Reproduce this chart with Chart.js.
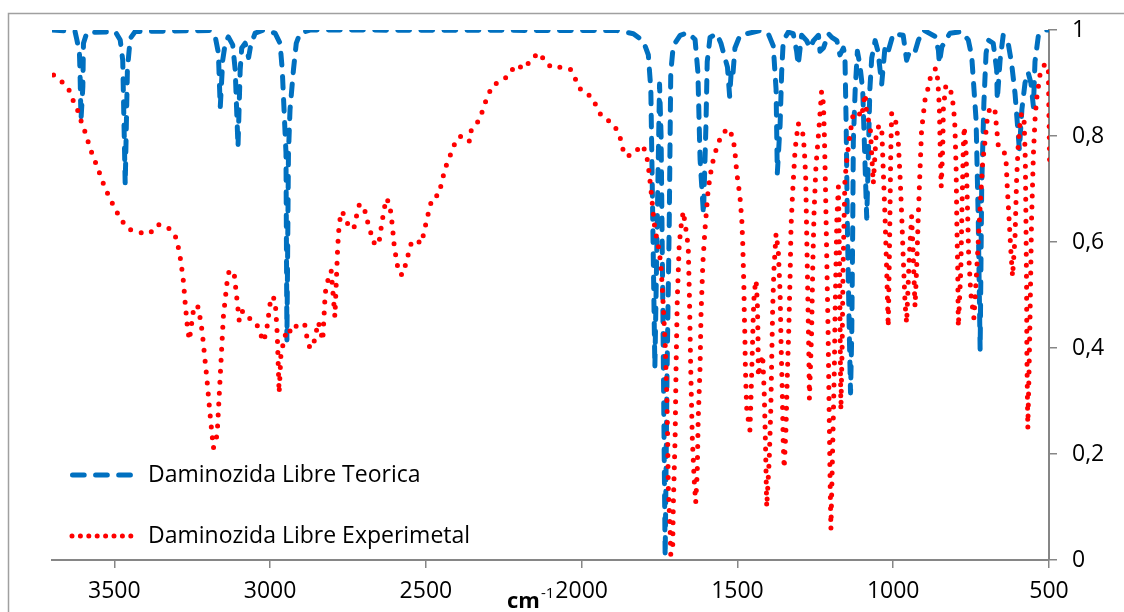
<!DOCTYPE html>
<html>
<head>
<meta charset="utf-8">
<script src="https://cdn.jsdelivr.net/npm/chart.js@4.4.1/dist/chart.umd.min.js"></script>
<style>
html,body{margin:0;padding:0;background:#fff;overflow:hidden}
#wrap{position:relative;width:1124px;height:612px}
</style>
</head>
<body>
<div id="wrap"><canvas id="c" width="1124" height="612"></canvas></div>
<script>
// ---------- data ----------
const seriesNames = ['Daminozida Libre Teorica', 'Daminozida Libre Experimetal'];

const teoricaWn = [3700,3626,3620,3612,3610,3607,3601,3599,3588,3497,3481,3473,3465,3458,3449,3433,
  3192,3176,3166,3160,3152,3144,3134,3120,3112,3103,3096,3091,3080,3069,3062,3048,3021,
  2984,2968,2961,2949,2946,2941,2936,2925,2916,2904,2872,
  1941,1887,1834,1802,1786,1778,1773,1765,1757,1750,1745,1739,1732,1726,1719,1714,1706,1684,1659,
  1636,1627,1620,1609,1601,1597,1588,1566,1553,1540,1532,1525,1519,1514,1508,1492,
  1427,1401,1385,1376,1372,1363,1358,1353,1337,1321,1310,1305,1294,1278,1267,1256,1240,1235,1224,1208,1197,1181,
  1171,1160,1155,1151,1147,1141,1137,1133,1130,1128,1122,1115,1107,1098,1091,1085,1080,1075,1069,1058,1049,
  1037,1026,1016,1000,968,957,946,930,919,903,866,855,852,844,818,780,759,748,734,727,721,716,709,702,695,
  679,668,666,657,647,631,620,609,595,587,577,567,558,550,545,534,513,500];
const teoricaT = [1.0,0.997,0.981,0.957,0.919,0.830,0.893,0.975,0.995,0.997,0.981,0.943,0.708,0.925,0.984,0.997,
  0.999,0.987,0.957,0.854,0.943,0.975,0.987,0.972,0.925,0.779,0.925,0.966,0.975,0.948,0.972,0.994,1.0,
  0.994,0.975,0.925,0.768,0.415,0.768,0.85,0.925,0.975,0.994,1.0,
  0.999,0.999,0.993,0.979,0.953,0.888,0.691,0.363,0.65,0.898,0.80,0.45,0.006,0.35,0.63,0.92,0.97,0.99,0.995,
  0.982,0.921,0.757,0.652,0.822,0.940,0.986,0.993,0.975,0.947,0.93,0.875,0.93,0.92,0.966,0.99,
  0.999,0.993,0.97,0.888,0.73,0.822,0.921,0.979,0.996,0.993,0.96,0.934,0.99,0.98,0.966,0.98,0.99,0.96,0.966,0.993,0.986,0.98,
  0.953,0.966,0.953,0.82,0.625,0.429,0.315,0.429,0.625,0.79,0.888,0.96,0.934,0.888,0.757,0.645,0.757,0.888,0.947,0.98,0.96,
  0.898,0.97,0.96,0.993,0.99,0.943,0.962,0.959,0.981,1.0,0.988,0.962,0.937,0.968,0.994,0.997,0.981,0.95,0.83,0.64,0.396,0.704,0.862,0.956,0.981,
  0.975,0.925,0.868,0.943,0.99,0.975,0.937,0.88,0.774,0.85,0.90,0.92,0.90,0.855,0.94,0.99,1.0,1.0];

const experimentalWn = [3695,3671,3647,3633,3618,3606,3593,3582,3570,3557,3543,3530,3513,3497,3479,3457,3421,3386,3362,3330,
  3305,3295,3288,3283,3278,3272,3265,3259,3244,3230,3218,3203,3193,3182,3170,3158,3150,3138,3131,3115,3107,3099,3088,
  3066,3045,3032,3021,3011,2997,2984,2977,2971,2965,2946,2928,2911,2888,2882,2872,2861,2853,2845,2831,2827,2823,2816,
  2804,2792,2786,2783,2778,2770,2757,2746,2730,2722,2713,2697,2689,2678,2668,2652,2646,2641,2634,2628,2616,2612,2607,
  2604,2600,2593,2588,2574,2564,2555,2545,2527,2514,2506,2497,2489,2479,2458,2450,2441,2430,2414,2403,2383,2360,2354,
  2344,2325,2316,2301,2287,2255,2232,2214,2181,2163,2134,2117,2093,2065,2034,2018,2001,1971,1953,
  1936,1903,1882,1871,1864,1842,1820,1804,1791,1785,1781,1777,1770,1765,1754,1746,1740,1732,1727,1724,1722,1716,1714,
  1708,1706,1700,1697,1693,1687,1682,1674,1668,1658,1654,1650,1645,1639,1634,1629,1626,1620,1617,1611,1604,1595,1588,
  1577,1564,1548,1526,1513,1508,1502,1492,1486,1483,1481,1479,1478,1476,1475,1473,1470,1460,1457,1454,1451,1449,1446,
  1440,1436,1434,1433,1426,1419,1414,1410,1406,1398,1393,1390,1387,1383,1376,1369,1363,1360,1356,1353,1350,1344,1340,
  1335,1331,1328,1323,1315,1305,1289,1285,1281,1278,1274,1271,1269,1262,1258,1254,1248,1240,1235,1230,1224,1221,1217,
  1213,1209,1206,1203,1200,1192,1189,1187,1184,1181,1176,1172,1170,1168,1164,1161,1155,1149,1139,1128,1112,1101,1096,
  1090,1085,1074,1064,1055,1046,1037,1032,1026,1021,1016,1013,1010,1008,1005,994,984,978,973,968,962,957,948,941,936,
  930,925,920,914,909,898,887,879,863,857,852,850,848,846,841,839,831,816,809,805,802,798,796,793,791,783,779,775,772,
  766,762,758,751,741,732,721,713,705,698,689,673,670,663,647,638,634,628,622,617,609,604,599,593,588,580,576,574,572,
  571,568,564,561,556,550,545,540,529,513,502,498];
const experimentalT = [0.915,0.904,0.889,0.868,0.849,0.827,0.806,0.785,0.764,0.745,0.723,0.702,0.681,0.662,0.643,0.625,0.618,0.616,0.633,0.629,
  0.613,0.591,0.569,0.548,0.525,0.481,0.437,0.415,0.480,0.477,0.431,0.343,0.277,0.211,0.236,0.370,0.459,0.525,0.547,0.539,0.495,0.451,0.470,
  0.456,0.448,0.428,0.412,0.434,0.497,0.492,0.426,0.315,0.390,0.437,0.428,0.447,0.443,0.421,0.399,0.406,0.428,0.449,0.414,0.459,0.504,0.525,
  0.546,0.459,0.547,0.591,0.636,0.658,0.646,0.625,0.629,0.651,0.672,0.662,0.642,0.620,0.599,0.594,0.616,0.638,0.660,0.682,0.673,0.651,0.629,
  0.606,0.585,0.563,0.541,0.538,0.560,0.580,0.602,0.602,0.597,0.619,0.642,0.662,0.684,0.689,0.711,0.732,0.753,0.774,0.794,0.801,0.790,0.812,
  0.819,0.833,0.854,0.875,0.895,0.905,0.915,0.934,0.927,0.946,0.957,0.939,0.928,0.930,0.925,0.905,0.885,0.875,0.857,
  0.837,0.825,0.807,0.786,0.764,0.763,0.775,0.783,0.762,0.738,0.717,0.695,0.652,0.625,0.593,0.560,0.501,0.409,0.317,0.232,0.140,0.055,0.010,
  0.015,0.100,0.232,0.363,0.494,0.592,0.625,0.658,0.635,0.592,0.494,0.363,0.232,0.153,0.108,0.166,0.265,0.363,0.461,0.560,0.625,0.691,0.724,
  0.757,0.783,0.806,0.814,0.792,0.770,0.730,0.686,0.642,0.598,0.553,0.509,0.465,0.421,0.377,0.333,0.283,0.245,0.296,0.358,0.421,0.465,0.506,
  0.528,0.484,0.421,0.346,0.370,0.387,0.315,0.220,0.100,0.189,0.283,0.377,0.472,0.547,0.616,0.585,0.503,0.409,0.315,0.220,0.173,0.252,0.346,
  0.440,0.535,0.629,0.692,0.774,0.824,0.802,0.770,0.724,0.625,0.494,0.396,0.304,0.429,0.560,0.658,0.743,0.802,0.842,0.884,0.861,0.802,0.691,
  0.560,0.429,0.298,0.166,0.058,0.277,0.358,0.453,0.547,0.642,0.704,0.55,0.40,0.283,0.40,0.55,0.717,0.755,0.802,0.843,0.845,0.835,0.86,
  0.88,0.84,0.82,0.71,0.80,0.82,0.817,0.736,0.642,0.547,0.440,0.547,0.673,0.767,0.843,0.836,0.792,0.723,0.654,0.572,0.484,0.447,0.579,0.648,0.579,
  0.478,0.547,0.642,0.736,0.811,0.868,0.893,0.915,0.928,0.906,0.855,0.799,0.748,0.704,0.780,0.852,0.896,0.887,0.865,0.843,0.818,0.736,0.642,0.547,0.440,0.547,0.673,0.780,0.818,
  0.767,0.673,0.579,0.503,0.456,0.547,0.667,0.748,0.792,0.833,0.855,0.846,0.827,0.783,0.777,0.756,0.704,0.642,0.579,0.535,0.610,0.717,0.780,0.824,0.843,0.830,0.755,0.642,0.516,
  0.390,0.248,0.358,0.453,0.642,0.767,0.830,0.868,0.915,0.937,0.925,0.74];

const xTickValues = [3500, 3000, 2500, 2000, 1500, 1000, 500];
const xTickLabels = ['3500', '3000', '2500', '2000', '1500', '1000', '500'];
const yTickValues = [0, 0.2, 0.4, 0.6, 0.8, 1];
const yTickLabels = ['0', '0,2', '0,4', '0,6', '0,8', '1'];
const xTitleMain = 'cm';
const xTitleSup = '-1';

// ---------- styles ----------
const BLUE = '#0070C0', RED = '#FF0000', AXIS = '#868686';
const FONT = "'Open Sans', 'DejaVu Sans', sans-serif";
const BLUE_DASH = [11.7, 11.4];
const RED_DASH = [0, 11];

const framePlugin = {
  id: 'frame',
  beforeDraw(chart) {
    const ctx = chart.ctx;
    ctx.save();
    ctx.fillStyle = '#fff';
    ctx.fillRect(0, 0, chart.width, chart.height);
    ctx.strokeStyle = '#a0a0a0';
    ctx.lineWidth = 1.5;
    ctx.strokeRect(8.5, 13.5, 1300, 800);
    ctx.restore();
  }
};

const legendPlugin = {
  id: 'insideLegend',
  afterDraw(chart) {
    const ctx = chart.ctx;
    const items = [
      {ds: chart.data.datasets[0], y: 475, dash: BLUE_DASH, w: 5, x0: 72.5},
      {ds: chart.data.datasets[1], y: 536, dash: [0, 8.4], w: 5, x0: 72}
    ];
    ctx.save();
    items.forEach(it => {
      ctx.beginPath();
      ctx.setLineDash(it.dash);
      ctx.lineCap = 'round';
      ctx.lineWidth = it.w;
      ctx.strokeStyle = it.ds.borderColor;
      ctx.moveTo(it.x0, it.y);
      ctx.lineTo(133, it.y);
      ctx.stroke();
      ctx.setLineDash([]);
      ctx.fillStyle = '#000';
      ctx.font = '23px ' + FONT;
      ctx.textBaseline = 'middle';
      ctx.textAlign = 'left';
      ctx.fillText(it.ds.label, 148, it.y);
    });
    // axis title cm^-1, placed just left of the 2000 tick label
    const xs = chart.scales.x;
    const px = xs.getPixelForValue(2000);
    ctx.font = '23px ' + FONT;
    const half = ctx.measureText('2000').width / 2;
    ctx.font = '15px ' + FONT;
    const supW = ctx.measureText(xTitleSup).width;
    const endX = px - half - 1;
    ctx.fillStyle = '#000';
    ctx.textAlign = 'left';
    ctx.textBaseline = 'alphabetic';
    ctx.fillText(xTitleSup, endX - supW, 598);
    ctx.font = 'bold 22px ' + FONT;
    const mainW = ctx.measureText(xTitleMain).width;
    ctx.fillText(xTitleMain, endX - supW - 1 - mainW, 608);
    ctx.restore();
  }
};

const ctx = document.getElementById('c').getContext('2d');
new Chart(ctx, {
  type: 'line',
  data: {
    datasets: [
      {
        label: seriesNames[0],
        data: teoricaWn.map((x, i) => ({x: x, y: teoricaT[i]})),
        borderColor: BLUE, borderWidth: 5, borderDash: BLUE_DASH,
        borderCapStyle: 'round', borderJoinStyle: 'round',
        pointRadius: 0, tension: 0, fill: false, order: 1
      },
      {
        label: seriesNames[1],
        data: experimentalWn.map((x, i) => ({x: x, y: experimentalT[i]})),
        borderColor: RED, borderWidth: 5, borderDash: RED_DASH,
        borderCapStyle: 'round', borderJoinStyle: 'round',
        pointRadius: 0, tension: 0, fill: false, order: 0
      }
    ]
  },
  options: {
    responsive: false,
    animation: false,
    devicePixelRatio: 1,
    layout: {padding: {left: 52, top: 30, right: 0, bottom: 0}},
    plugins: {legend: {display: false}, tooltip: {enabled: false}, title: {display: false}},
    scales: {
      x: {
        type: 'linear', min: 500, max: 3700, reverse: true, position: 'bottom',
        afterBuildTicks: s => { s.ticks = xTickValues.map(v => ({value: v})); },
        afterFit: s => { s.height = 52; },
        grid: {display: true, drawOnChartArea: false, drawTicks: true, tickLength: 8, color: AXIS, lineWidth: 1.5},
        border: {display: true, color: AXIS, width: 2},
        ticks: {
          autoSkip: false, maxRotation: 0, padding: 10, color: '#000',
          font: {family: FONT, size: 23},
          callback: v => xTickLabels[xTickValues.indexOf(v)]
        }
      },
      y: {
        type: 'linear', min: 0, max: 1, position: 'right',
        afterBuildTicks: s => { s.ticks = yTickValues.map(v => ({value: v})); },
        afterFit: s => { s.width = 75; },
        grid: {display: true, drawOnChartArea: false, drawTicks: true, tickLength: 8, color: AXIS, lineWidth: 1.5},
        border: {display: true, color: AXIS, width: 2},
        ticks: {
          padding: 15, color: '#000',
          font: {family: FONT, size: 23},
          callback: (v, i) => yTickLabels[i]
        }
      }
    }
  },
  plugins: [framePlugin, legendPlugin]
});
</script>
</body>
</html>
